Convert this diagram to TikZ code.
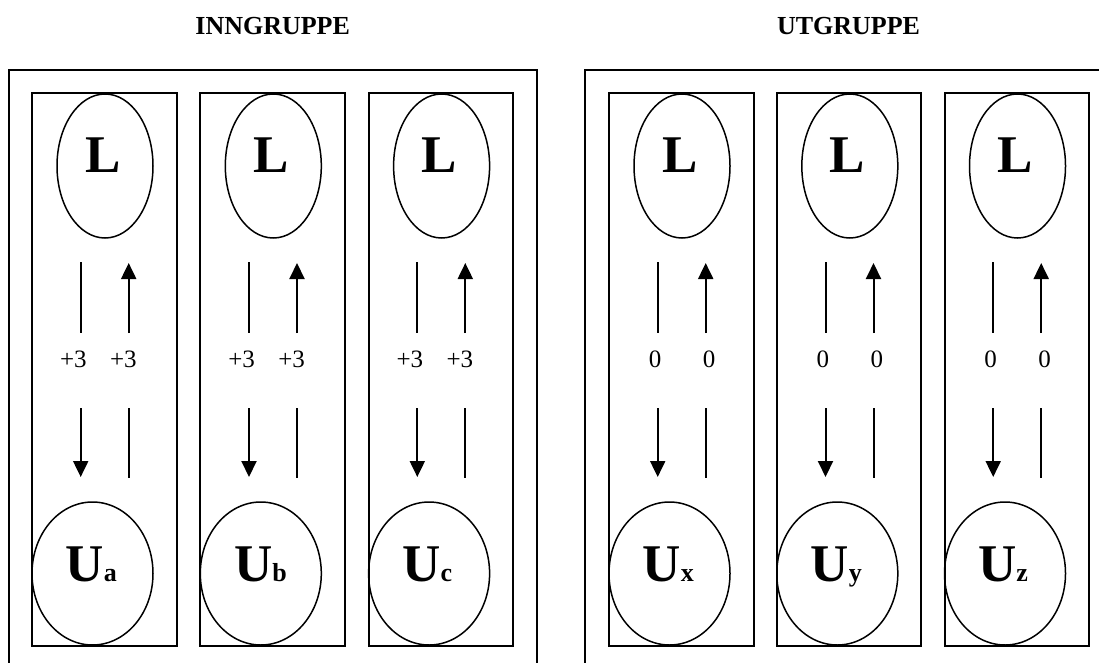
\documentclass[tikz,border=0pt]{standalone}
\usepackage{fontspec}
\setmainfont{Liberation Serif}
\usetikzlibrary{arrows.meta,shapes.geometric}
\begin{document}
\begin{tikzpicture}[x=1pt,y=-1pt,
  outer/.style={line width=2pt},
  colbox/.style={draw,line width=2pt,minimum width=144.5pt,minimum height=553pt,anchor=north west,inner sep=0pt,outer sep=0pt},
  lell/.style={draw,ellipse,line width=1.5pt,minimum width=96pt,minimum height=144pt,inner sep=0pt},
  uell/.style={draw,ellipse,line width=1.5pt,minimum width=121pt,minimum height=143pt,inner sep=0pt},
  head/.style={anchor=base,inner sep=0pt,font=\fontsize{26}{30}\selectfont\bfseries},
  big/.style={anchor=base,inner sep=0pt,font=\fontsize{53}{60}\selectfont\bfseries},
  num/.style={anchor=base,inner sep=0pt,font=\fontsize{25}{30}\selectfont},
  flow/.style={line width=2pt},
  flowarr/.style={line width=2pt,-{Triangle[width=15pt,length=16pt]}}]
\useasboundingbox (0,0) rectangle (1099,663);
% headers
\node[head] (hin) at (272.7,34.3) {INNGRUPPE};
\node[head] (hut) at (848.5,34.3) {UTGRUPPE};
% outer group boxes
\draw[outer] (8.5,663) -- (8.5,70) -- (537,70) -- (537,663);
\draw[outer] (585,663) -- (585,70) -- (1099,70);
% columns
\foreach \i/\bx/\s/\la/\lb/\ma/\mb in {
  1/32/a/+3/+3/41.3/91.3,
  2/200.3/b/+3/+3/41.3/91.3,
  3/368.6/c/+3/+3/41.3/91.3,
  4/609/x/0/0/46/100,
  5/776.8/y/0/0/46/100,
  6/944.5/z/0/0/46/100}{
  \node[colbox] (col\i) at (\bx,93) {};
  \node[lell] (L\i) at (\bx+73,166) {};
  \node[big] (Lt\i) at (\bx+70.7,172.7) {L};
  \node[uell] (U\i) at (\bx+60.5,573.5) {};
  \node[big,anchor=base west] (Ut\i) at (\bx+33.5,581.7) {U{\fontsize{26}{30}\selectfont\bfseries \s}};
  \coordinate (a\i) at (\bx+48.7,262);
  \coordinate (b\i) at (\bx+48.7,333);
  \coordinate (c\i) at (\bx+96.7,333);
  \coordinate (d\i) at (\bx+96.7,263);
  \coordinate (e\i) at (\bx+48.7,408);
  \coordinate (f\i) at (\bx+48.7,477);
  \coordinate (g\i) at (\bx+96.7,408);
  \coordinate (h\i) at (\bx+96.7,478);
  \draw[flow] (a\i) -- (b\i);
  \draw[flowarr] (c\i) -- (d\i);
  \draw[flowarr] (e\i) -- (f\i);
  \draw[flow] (g\i) -- (h\i);
  \node[num] (p\i) at (\bx+\ma,367.3) {\la};
  \node[num] (q\i) at (\bx+\mb,367.3) {\lb};
}
\end{tikzpicture}
\end{document}
